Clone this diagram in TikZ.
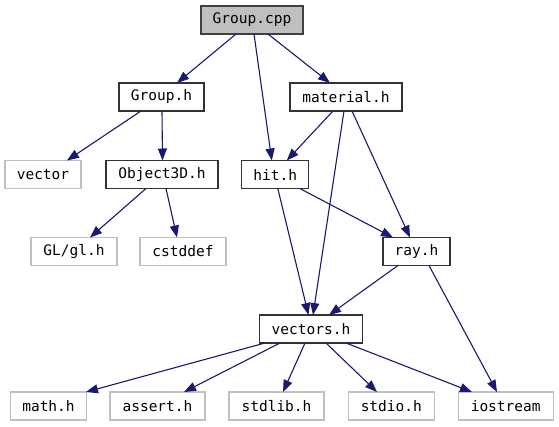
\documentclass[tikz,border=0pt]{standalone}
\usepackage{fontspec}
\setmonofont{DejaVu Sans Mono}
\usetikzlibrary{arrows.meta}
\definecolor{edgec}{HTML}{191970}
\definecolor{extc}{HTML}{BFBFBF}
\definecolor{rootfill}{HTML}{BFBFBF}
\tikzset{
  box/.style={draw=black!80, line width=1.1pt, fill=white, inner sep=0pt, outer sep=0pt,
    minimum height=28pt, font=\fontsize{14.5}{16}\selectfont\ttfamily},
  ext/.style={box, draw=extc},
  rootbox/.style={box, fill=rootfill, draw=black!75},
  e/.style={draw=edgec, line width=1.1pt, -{Triangle[length=12pt,width=9pt]}, color=edgec}
}
\begin{document}
\begin{tikzpicture}[x=1pt,y=-1pt]
\useasboundingbox (0,0) rectangle (559,427);
% nodes
\node[rootbox, minimum width=102pt] (gcpp) at (252,20) {Group.cpp};
\node[box, minimum width=85pt] (gh) at (161.5,97) {Group.h};
\node[box, minimum width=112pt] (mat) at (346,97) {material.h};
\node[ext, minimum width=76pt] (vec) at (43,174.5) {vector};
\node[box, minimum width=112pt] (obj) at (162,174.5) {Object3D.h};
\node[box, minimum width=67pt] (hit) at (275.3,174.5) {hit.h};
\node[ext, minimum width=86pt] (gl) at (74,251.5) {GL/gl.h};
\node[ext, minimum width=86pt] (cst) at (183,251.5) {cstddef};
\node[box, minimum width=67pt] (ray) at (416.5,251.5) {ray.h};
\node[box, minimum width=103pt] (vecs) at (311,329) {vectors.h};
\node[ext, minimum width=76pt] (math) at (48.5,406) {math.h};
\node[ext, minimum width=95pt] (asrt) at (157.5,406) {assert.h};
\node[ext, minimum width=95pt] (stdl) at (276.5,406) {stdlib.h};
\node[ext, minimum width=86pt] (stdio) at (391.3,406) {stdio.h};
\node[ext, minimum width=95pt] (ios) at (505.7,406) {iostream};
% edges
\draw[e] ([xshift=-16pt]gcpp.south) -- ([xshift=15.5pt]gh.north);
\draw[e] ([xshift=2pt]gcpp.south) -- ([xshift=-3.5pt]hit.north);
\draw[e] ([xshift=16pt]gcpp.south) -- ([xshift=-16pt]mat.north);
\draw[e] ([xshift=-20.5pt]gh.south) -- ([xshift=24pt]vec.north);
\draw[e] ([xshift=0.5pt]gh.south) -- ([xshift=0.5pt]obj.north);
\draw[e] ([xshift=-16pt]obj.south) -- ([xshift=16pt]gl.north);
\draw[e] ([xshift=4pt]obj.south) -- ([xshift=-6pt]cst.north);
\draw[e] ([xshift=-13pt]mat.south) -- ([xshift=11.5pt]hit.north);
\draw[e] ([xshift=-2pt]mat.south) -- ([xshift=2pt]vecs.north);
\draw[e] ([xshift=6pt]mat.south) -- ([xshift=-6.5pt]ray.north);
\draw[e] ([xshift=2.5pt]hit.south) -- ([xshift=-2.5pt]vecs.north);
\draw[e] ([xshift=24.5pt]hit.south) -- ([xshift=-23.5pt]ray.north);
\draw[e] ([xshift=-18.5pt]ray.south) -- ([xshift=18pt]vecs.north);
\draw[e] ([xshift=12.5pt]ray.south) -- ([xshift=-8.7pt]ios.north);
\draw[e] ([xshift=-46pt]vecs.south) -- ([xshift=37.5pt]math.north);
\draw[e] ([xshift=-31pt]vecs.south) -- ([xshift=26.5pt]asrt.north);
\draw[e] ([xshift=-6pt]vecs.south) -- ([xshift=6.5pt]stdl.north);
\draw[e] ([xshift=15pt]vecs.south) -- ([xshift=-14.3pt]stdio.north);
\draw[e] ([xshift=35pt]vecs.south) -- ([xshift=-33.7pt]ios.north);
\end{tikzpicture}
\end{document}
